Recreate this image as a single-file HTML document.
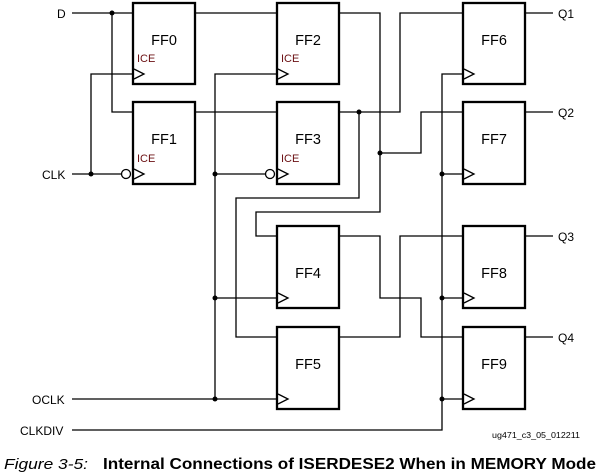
<!DOCTYPE html>
<html><head><style>
body{margin:0;background:#fff;}
svg{display:block;font-family:"Liberation Sans",sans-serif;}
</style></head><body>
<svg width="600" height="476" viewBox="0 0 600 476" xmlns="http://www.w3.org/2000/svg">
<g fill="none" stroke="#000" stroke-width="1.3">
<polyline points="72,13 133,13"/>
<polyline points="112,13 112,112 133,112"/>
<polyline points="72,174 121,174"/>
<polyline points="91,174 91,74 133,74"/>
<circle cx="126" cy="174" r="4.5"/>
<polyline points="195,13 277,13"/>
<polyline points="195,112 277,112"/>
<polyline points="72,399 277,399"/>
<polyline points="215,399 215,74 277,74"/>
<polyline points="215,174 265,174"/>
<circle cx="270" cy="174" r="4.5"/>
<polyline points="215,298 277,298"/>
<polyline points="339,13 380,13 380,212 256,212 256,236 277,236"/>
<polyline points="339,112 400,112 400,13 463,13"/>
<polyline points="359,112 359,198 236,198 236,337 277,337"/>
<polyline points="380,153 421,153 421,112 463,112"/>
<polyline points="339,236 380,236 380,298 421,298 421,337 463,337"/>
<polyline points="339,337 400,337 400,236 463,236"/>
<polyline points="72,430 442,430 442,74 463,74"/>
<polyline points="442,174 463,174"/>
<polyline points="442,298 463,298"/>
<polyline points="442,399 463,399"/>
<polyline points="525,13 553,13"/>
<polyline points="525,112 553,112"/>
<polyline points="525,236 553,236"/>
<polyline points="525,337 553,337"/>
</g>
<g fill="#000">
<circle cx="112" cy="13" r="2.5"/><circle cx="91" cy="174" r="2.5"/>
<circle cx="215" cy="174" r="2.5"/><circle cx="215" cy="298" r="2.5"/><circle cx="215" cy="399" r="2.5"/>
<circle cx="359" cy="112" r="2.5"/><circle cx="380" cy="153" r="2.5"/>
<circle cx="442" cy="174" r="2.5"/><circle cx="442" cy="298" r="2.5"/><circle cx="442" cy="399" r="2.5"/>
</g>
<g fill="#fff" stroke="#000" stroke-width="2.3">
<rect x="133" y="3" width="62" height="81"/><rect x="133" y="102" width="62" height="82"/>
<rect x="277" y="3" width="62" height="81"/><rect x="277" y="102" width="62" height="82"/>
<rect x="277" y="226" width="62" height="82"/><rect x="277" y="327" width="62" height="82"/>
<rect x="463" y="3" width="62" height="81"/><rect x="463" y="102" width="62" height="82"/>
<rect x="463" y="226" width="62" height="82"/><rect x="463" y="327" width="62" height="82"/>
</g>
<g fill="none" stroke="#000" stroke-width="1.3">
<polyline points="134,69 144,74 134,79"/><polyline points="134,169 144,174 134,179"/>
<polyline points="278,69 288,74 278,79"/><polyline points="278,169 288,174 278,179"/>
<polyline points="278,293 288,298 278,303"/><polyline points="278,394 288,399 278,404"/>
<polyline points="464,69 474,74 464,79"/><polyline points="464,169 474,174 464,179"/>
<polyline points="464,293 474,298 464,303"/><polyline points="464,394 474,399 464,404"/>
</g>
<g font-size="14.5" text-anchor="middle" fill="#000">
<text x="164" y="45">FF0</text><text x="164" y="144">FF1</text>
<text x="308" y="45">FF2</text><text x="308" y="144">FF3</text>
<text x="308" y="278">FF4</text><text x="308" y="369">FF5</text>
<text x="494" y="45">FF6</text><text x="494" y="144">FF7</text>
<text x="494" y="278">FF8</text><text x="494" y="369">FF9</text>
</g>
<g font-size="11" fill="#6b0f12">
<text x="137" y="62">ICE</text><text x="137" y="162">ICE</text>
<text x="281" y="62">ICE</text><text x="281" y="162">ICE</text>
</g>
<g font-size="12" fill="#000">
<text x="57" y="18">D</text><text x="42" y="179">CLK</text>
<text x="32" y="404">OCLK</text><text x="20" y="435">CLKDIV</text>
<text x="558" y="18">Q1</text><text x="558" y="117">Q2</text>
<text x="558" y="241">Q3</text><text x="558" y="342">Q4</text>
</g>
<text x="492" y="438" font-size="8" fill="#000" textLength="88" lengthAdjust="spacingAndGlyphs">ug471_c3_05_012211</text>
<text x="4" y="469" font-size="15" font-style="italic" fill="#000" textLength="84" lengthAdjust="spacingAndGlyphs">Figure 3-5:</text>
<text x="103" y="469" font-size="15.5" font-weight="bold" fill="#000" textLength="493" lengthAdjust="spacingAndGlyphs">Internal Connections of ISERDESE2 When in MEMORY Mode</text>
</svg>
</body></html>
